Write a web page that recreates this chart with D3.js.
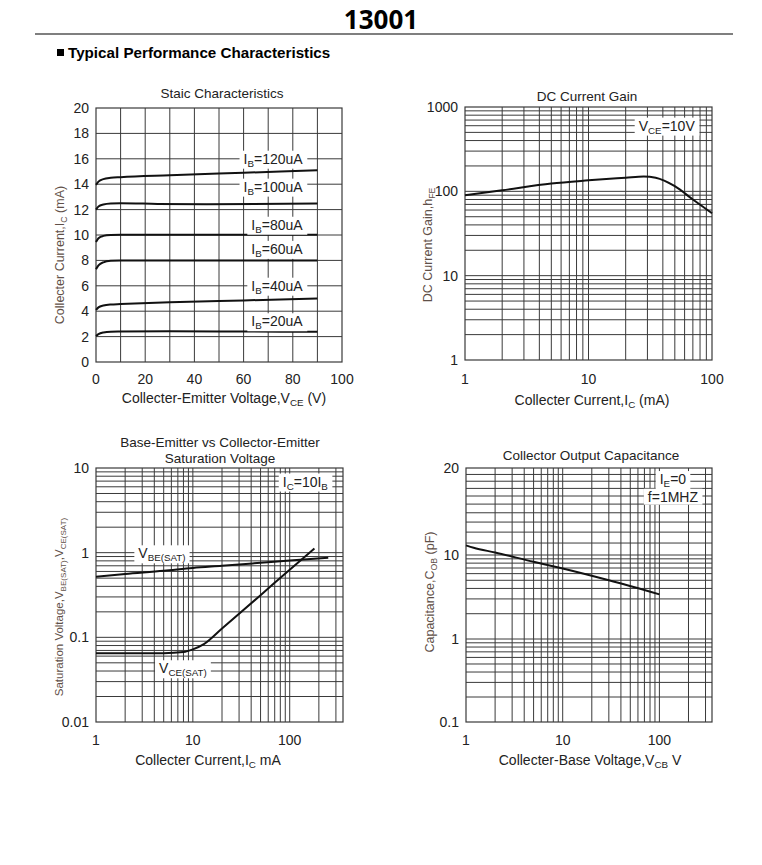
<!DOCTYPE html>
<html>
<head>
<meta charset="utf-8">
<script src="https://cdn.jsdelivr.net/npm/d3@7"></script>
<style>
  body { margin: 0; background: #fff; }
  svg text { font-family: "Liberation Sans", Arial, sans-serif; fill: #222; }
</style>
</head>
<body>
<script>
// ---- data ----
// Static characteristics: [Vce (V), Ic (mA)] per base current
const ib20  = [[0,2.05],[1,2.2],[3,2.33],[6,2.39],[10,2.4],[30,2.42],[60,2.4],[90,2.38]];
const ib40  = [[0,4.1],[1,4.3],[3,4.45],[6,4.53],[10,4.56],[30,4.7],[60,4.85],[90,5.0]];
const ib60  = [[0,7.3],[1,7.6],[3,7.85],[6,7.97],[10,8.0],[50,8.0],[90,8.0]];
const ib80  = [[0,9.45],[1,9.75],[3,9.93],[6,10.0],[10,10.02],[50,10.02],[90,10.02]];
const ib100 = [[0,12.0],[1,12.25],[3,12.4],[6,12.48],[10,12.5],[25,12.45],[45,12.42],[90,12.48]];
const ib120 = [[0,13.95],[1,14.2],[3,14.4],[6,14.5],[10,14.55],[30,14.7],[60,14.9],[90,15.1]];
const staticCurves = [ib20, ib40, ib60, ib80, ib100, ib120];
const staticLabels = ['20', '40', '60', '80', '100', '120'];
const staticLabelY = [3.2, 6.0, 8.9, 10.8, 13.8, 16.0];

// DC current gain
const gainIc = [1, 2, 5, 10, 20, 28, 35, 50, 70, 100];
const gainH  = [90, 103, 124, 135, 145, 150, 145, 115, 80, 55];

// Saturation voltages
const vbeIc = [1, 2, 5, 10, 20, 50, 100, 250];
const vbe   = [0.52, 0.56, 0.61, 0.66, 0.70, 0.76, 0.81, 0.87];
const vceIc = [1, 5, 8, 10, 13, 20, 50, 100, 180];
const vce   = [0.065, 0.065, 0.067, 0.072, 0.083, 0.127, 0.315, 0.63, 1.12];

// Output capacitance
const cobV = [1, 1.2, 2, 5, 10, 30, 100];
const cob  = [10.8, 10.6, 10.2, 8.3, 6.9, 5.0, 3.4];

const W = 762, H = 865;
const GRID = '#3a3a3a';
const AXIS_LABEL = '#5f5048';

const svg = d3.select('body').append('svg')
    .attr('width', W)
    .attr('height', H);

// header
svg.append('text')
    .attr('x', 381).attr('y', 29)
    .attr('text-anchor', 'middle')
    .style('font-family', '"Open Sans", sans-serif')
    .style('font-weight', 'bold')
    .style('font-size', '26px')
    .style('fill', '#000')
    .text('13001');

svg.append('line')
    .attr('x1', 35).attr('x2', 733)
    .attr('y1', 34).attr('y2', 34)
    .attr('stroke', '#000').attr('stroke-width', 1.2);

svg.append('rect')
    .attr('x', 57).attr('y', 49).attr('width', 7).attr('height', 7)
    .attr('fill', '#000');

svg.append('text')
    .attr('x', 68).attr('y', 58)
    .style('font-weight', 'bold')
    .style('font-size', '15.2px')
    .style('fill', '#000')
    .text('Typical Performance Characteristics');

// text with subscripts: parts starting with "_" are subscript
function rich(text, parts) {
    let low = false;
    parts.forEach(p => {
        const sub = p.startsWith('_');
        const t = text.append('tspan').text(sub ? p.slice(1) : p);
        if (sub) {
            t.style('font-size', '0.7em');
            if (!low) { t.attr('dy', 3); low = true; }
        } else if (low) {
            t.attr('dy', -3); low = false;
        }
    });
    return text;
}

function boxLabel(g, x, y, parts, size, anchor) {
    const t = g.append('text')
        .attr('x', x).attr('y', y)
        .attr('dy', '0.35em')
        .attr('text-anchor', anchor || 'middle')
        .style('font-size', size + 'px');
    rich(t, parts);
    const b = t.node().getBBox();
    g.insert('rect', () => t.node())
        .attr('x', b.x - 4).attr('y', b.y)
        .attr('width', b.width + 8).attr('height', b.height)
        .attr('fill', '#fff');
    return t;
}

function logGrid(lo, hi) {
    const out = [];
    for (let d = Math.pow(10, Math.floor(Math.log10(lo))); d < hi; d *= 10) {
        for (let k = 1; k < 10; k++) {
            const v = d * k;
            if (v > lo * 1.0001 && v < hi * 0.9999) out.push(v);
        }
    }
    return out;
}

// generic panel: grid + frame + tick labels + titles
function panel(o) {
    const g = svg.append('g');
    const [x0, x1] = o.x.range();
    const y0 = o.yPos(o.yDomain[0]), y1 = o.yPos(o.yDomain[1]);

    g.selectAll('.vg').data(o.xGrid).enter().append('line')
        .attr('x1', d => o.x(d)).attr('x2', d => o.x(d))
        .attr('y1', y0).attr('y2', y1)
        .attr('stroke', GRID).attr('stroke-width', 1);

    g.selectAll('.hg').data(o.yGrid).enter().append('line')
        .attr('x1', x0).attr('x2', x1)
        .attr('y1', d => o.yPos(d)).attr('y2', d => o.yPos(d))
        .attr('stroke', GRID).attr('stroke-width', 1);

    g.append('rect')
        .attr('x', x0).attr('y', y1)
        .attr('width', x1 - x0).attr('height', y0 - y1)
        .attr('fill', 'none').attr('stroke', GRID).attr('stroke-width', 1.2);

    g.selectAll('.xt').data(o.xTicks).enter().append('text')
        .attr('x', d => o.x(d)).attr('y', o.xTickY)
        .attr('text-anchor', 'middle')
        .style('font-size', '14px')
        .text(d => String(d));

    g.selectAll('.yt').data(o.yTicks).enter().append('text')
        .attr('x', x0 - 7).attr('y', d => o.yPos(d))
        .attr('dy', '0.36em')
        .attr('text-anchor', 'end')
        .style('font-size', '14px')
        .text(d => String(d));

    o.title.forEach((line, i) => {
        g.append('text')
            .attr('x', o.titleX).attr('y', o.titleY + i * 16)
            .attr('text-anchor', 'middle')
            .style('font-size', '13.5px')
            .text(line);
    });

    rich(g.append('text')
        .attr('x', o.xLabelX).attr('y', o.xLabelY)
        .attr('text-anchor', 'middle')
        .style('font-size', '14px'), o.xLabel);

    rich(g.append('text')
        .attr('transform', `translate(${o.yLabelX},${o.yLabelY}) rotate(-90)`)
        .attr('text-anchor', 'middle')
        .attr('dy', '0.35em')
        .style('font-size', (o.yLabelSize || 12.5) + 'px')
        .style('fill', AXIS_LABEL), o.yLabel);

    return g;
}

function curve(g, pts, xs, ys) {
    g.append('path')
        .datum(pts)
        .attr('d', d3.line().x(d => xs(d[0])).y(d => ys(d[1])).curve(d3.curveMonotoneX))
        .attr('fill', 'none')
        .attr('stroke', '#111')
        .attr('stroke-width', 2);
}

// ---- 1. Static characteristics ----
const x1s = d3.scaleLinear().domain([0, 100]).range([96, 342]);
const y1s = d3.scaleLinear().domain([0, 20]).range([362, 108]);
const g1 = panel({
    x: x1s, yPos: y1s, yDomain: [0, 20],
    xGrid: d3.range(10, 100, 10), yGrid: d3.range(2, 20, 2),
    xTicks: d3.range(0, 101, 20), yTicks: d3.range(0, 21, 2),
    xTickY: 384,
    title: ['Staic Characteristics'], titleX: 222, titleY: 98,
    xLabel: ['Collecter-Emitter Voltage,V', '_CE', ' (V)'], xLabelX: 224, xLabelY: 403,
    yLabel: ['Collecter Current,I', '_C', ' (mA)'], yLabelX: 60, yLabelY: 255
});
staticCurves.forEach(c => curve(g1, c, x1s, y1s));
staticLabels.forEach((lb, i) => {
    boxLabel(g1, x1s(84), y1s(staticLabelY[i]), ['I', '_B', '=' + lb + 'uA'], 14, 'end');
});

// ---- 2. DC current gain ----
const x2s = d3.scaleLog().domain([1, 100]).range([465, 712]);
const y2s = d3.scaleLog().domain([1, 1000]).range([360, 107]);
const g2 = panel({
    x: x2s, yPos: y2s, yDomain: [1, 1000],
    xGrid: logGrid(1, 100), yGrid: logGrid(1, 1000),
    xTicks: [1, 10, 100], yTicks: [1, 10, 100, 1000],
    xTickY: 384,
    title: ['DC Current Gain'], titleX: 587, titleY: 101,
    xLabel: ['Collecter Current,I', '_C', ' (mA)'], xLabelX: 592, xLabelY: 405,
    yLabel: ['DC Current Gain,h', '_FE'], yLabelX: 428, yLabelY: 245
});
curve(g2, gainIc.map((d, i) => [d, gainH[i]]), x2s, y2s);
boxLabel(g2, x2s(43), y2s(600), ['V', '_CE', '=10V'], 14);

// ---- 3. Saturation voltage ----
const x3s = d3.scaleLog().domain([1, 355]).range([96, 343]);
const y3s = d3.scaleLog().domain([0.01, 10]).range([722, 468]);
const g3 = panel({
    x: x3s, yPos: y3s, yDomain: [0.01, 10],
    xGrid: logGrid(1, 355), yGrid: logGrid(0.01, 10),
    xTicks: [1, 10, 100], yTicks: [0.01, 0.1, 1, 10],
    xTickY: 745,
    title: ['Base-Emitter vs Collector-Emitter', 'Saturation Voltage'], titleX: 220, titleY: 447,
    xLabel: ['Collecter Current,', 'I', '_C', '  mA'], xLabelX: 208, xLabelY: 765,
    yLabel: ['Saturation Voltage,V', '_BE(SAT)', ',V', '_CE(SAT)'], yLabelX: 59, yLabelY: 607,
    yLabelSize: 11.5
});
curve(g3, vbeIc.map((d, i) => [d, vbe[i]]), x3s, y3s);
curve(g3, vceIc.map((d, i) => [d, vce[i]]), x3s, y3s);
boxLabel(g3, x3s(4.8), y3s(0.98), ['V', '_BE(SAT)'], 14);
boxLabel(g3, x3s(7.9), y3s(0.043), ['V', '_CE(SAT)'], 14);
boxLabel(g3, x3s(145), y3s(6.9), ['I', '_C', '=10I', '_B'], 14);

// ---- 4. Output capacitance ----
const x4s = d3.scaleLog().domain([1, 350]).range([466, 712]);
const y4lin = d3.scaleLinear().domain([-1, 0, 1, Math.log10(20)]).range([722, 639, 555, 468]);
const y4s = v => y4lin(Math.log10(v));
const cobGrid = logGrid(0.1, 10).concat([10, 11, 12, 13, 14, 15, 16, 17, 18, 19]);
const g4 = panel({
    x: x4s, yPos: y4s, yDomain: [0.1, 20],
    xGrid: logGrid(1, 350), yGrid: cobGrid,
    xTicks: [1, 10, 100], yTicks: [0.1, 1, 10, 20],
    xTickY: 745,
    title: ['Collector Output Capacitance'], titleX: 591, titleY: 460,
    xLabel: ['Collecter-Base Voltage,V', '_CB', '  V'], xLabelX: 590, xLabelY: 765,
    yLabel: ['Capacitance,C', '_OB', ' (pF)'], yLabelX: 430, yLabelY: 592
});
curve(g4, cobV.map((d, i) => [d, cob[i]]), x4s, y4s);
boxLabel(g4, x4s(138), y4s(18.3), ['I', '_E', '=0'], 14);
boxLabel(g4, x4s(138), y4s(15.9), ['f=1MHZ'], 14);
</script>
</body>
</html>
